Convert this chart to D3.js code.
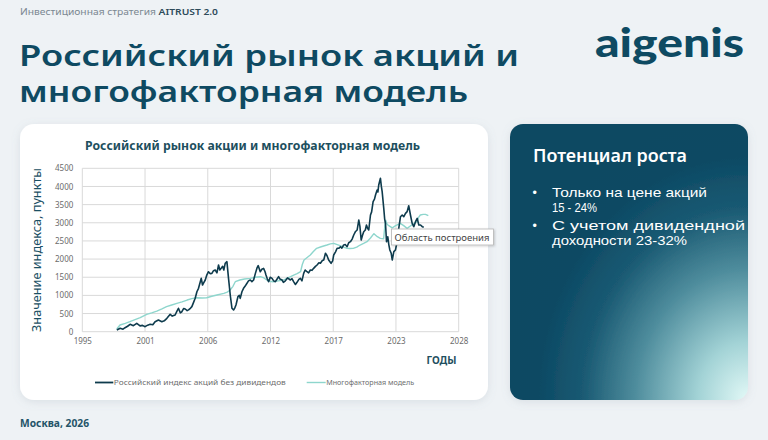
<!DOCTYPE html>
<html><head><meta charset="utf-8">
<script src="https://cdn.jsdelivr.net/npm/d3@7"></script>
<style>
html,body{margin:0;padding:0;background:#eef2f5;}
svg{display:block;}
</style></head>
<body>
<svg id="c" width="768" height="440"></svg>
<script>
// ---------- DATA ----------
const indexYears = [1998.76,1999.05,1999.3,1999.48,1999.7,1999.92,2000.21,2000.5,2000.79,2001.0,2001.23,2001.45,2001.67,2001.9,2002.1,2002.39,2002.69,2002.9,2003.13,2003.42,2003.6,2003.85,2004.0,2004.14,2004.3,2004.44,2004.6,2004.73,2004.9,2005.02,2005.2,2005.31,2005.45,2005.6,2005.75,2005.89,2005.98,2006.13,2006.24,2006.35,2006.48,2006.6,2006.76,2006.9,2007.06,2007.2,2007.35,2007.5,2007.64,2007.75,2007.87,2008.0,2008.1,2008.22,2008.37,2008.51,2008.66,2008.81,2008.95,2009.05,2009.16,2009.33,2009.45,2009.53,2009.68,2009.82,2009.95,2010.12,2010.25,2010.41,2010.55,2010.7,2010.85,2010.99,2011.1,2011.28,2011.42,2011.57,2011.7,2011.78,2011.9,2012.01,2012.15,2012.31,2012.45,2012.6,2012.75,2012.88,2013.0,2013.18,2013.3,2013.47,2013.65,2013.8,2013.91,2014.05,2014.19,2014.35,2014.49,2014.65,2014.78,2014.92,2015.07,2015.2,2015.36,2015.5,2015.65,2015.8,2015.94,2016.1,2016.24,2016.4,2016.53,2016.7,2016.82,2016.97,2017.1,2017.25,2017.46,2017.6,2017.69,2017.85,2017.99,2018.15,2018.28,2018.4,2018.56,2018.7,2018.86,2019.0,2019.15,2019.3,2019.44,2019.6,2019.74,2019.88,2019.98,2020.09,2020.2,2020.31,2020.45,2020.55,2020.65,2020.75,2020.9,2021.0,2021.13,2021.25,2021.34,2021.48,2021.55,2021.62,2021.77,2021.85,2021.92,2022.06,2022.14,2022.21,2022.3,2022.41,2022.5,2022.59,2022.71,2022.8,2022.94,2023.08,2023.23,2023.37,2023.52,2023.67,2023.81,2023.96,2024.1,2024.24,2024.39,2024.54,2024.68,2024.83,2024.98,2025.12,2025.27,2025.42,2025.55];
const indexValues = [47,93,70,110,150,204,165,231,160,175,138,180,204,190,276,322,276,300,368,478,430,460,560,644,520,550,640,625,580,600,650,690,800,920,1100,1195,1300,1470,1286,1350,1424,1550,1652,1600,1606,1680,1700,1620,1837,1700,1745,1800,1700,1884,1928,1470,1011,644,598,650,735,964,1000,918,1100,1195,1250,1333,1400,1424,1380,1424,1600,1750,1820,1652,1720,1745,1650,1562,1450,1378,1500,1470,1400,1378,1450,1515,1450,1424,1360,1400,1480,1450,1424,1460,1378,1300,1360,1440,1470,1400,1608,1700,1652,1620,1700,1690,1745,1800,1837,1900,1884,1960,1975,2159,2100,1975,1884,1950,2112,2200,2297,2300,2341,2300,2388,2400,2341,2450,2479,2550,2663,2760,2801,3076,2900,2525,2650,2754,2800,2938,2850,2801,3214,3300,3580,3650,3765,3902,3850,4040,4224,4000,3856,3398,3100,2985,2479,2616,2400,2250,2159,1975,2204,2250,2479,2847,3167,3214,3167,3260,3306,3470,3214,2985,2892,3030,3122,2938,2938,2892,2880];

const modelYears = [1998.75,1999.04,1999.5,1999.9,2000.35,2000.8,2001.37,2001.8,2002.25,2002.7,2003.1,2003.55,2004.0,2004.45,2004.9,2005.3,2005.74,2006.2,2006.6,2007.05,2007.5,2008.1,2008.4,2008.65,2008.9,2009.1,2009.5,2009.9,2010.4,2010.85,2011.3,2011.6,2011.85,2012.1,2012.4,2012.85,2013.3,2013.75,2014.2,2014.5,2014.8,2014.95,2015.1,2015.4,2015.65,2015.9,2016.2,2016.6,2017.1,2017.4,2017.7,2018.0,2018.25,2018.55,2018.85,2019.1,2019.4,2019.7,2020.0,2020.3,2020.6,2020.9,2021.2,2021.5,2021.76,2022.05,2022.15,2022.22,2022.35,2022.5,2022.8,2023.1,2023.5,2023.8,2024.1,2024.5,2024.95,2025.1,2025.25,2025.5,2025.7,2025.95];
const modelValues = [73,184,230,275,330,386,477,520,569,630,689,735,780,820,872,910,936,930,936,975,1010,1056,1090,1148,1250,1377,1423,1450,1469,1500,1515,1480,1423,1390,1377,1400,1423,1490,1560,1600,1652,1850,1974,2050,2111,2200,2295,2340,2387,2420,2433,2400,2368,2330,2295,2290,2295,2330,2387,2430,2479,2580,2700,2616,2570,2560,2900,3076,2960,2920,2860,2920,2983,2920,2846,2938,3030,3150,3213,3230,3231,3195];

const yTicks = [0,500,1000,1500,2000,2500,3000,3500,4000,4500];
const xAxisStart = new Date(1995, 9, 1);   // Excel date axis start
const xMajorUnitDays = 2000;               // major unit (days)
const xTickCount = 7;
const seriesNames = ["Российский индекс акций без дивидендов", "Многофакторная модель"];
const bullets = [["Только на цене акций", "15 - 24%"], ["С учетом дивидендной", "доходности 23-32%"]];

// ---------- HELPERS ----------
function yearToDate(y){
  const yr = Math.floor(y);
  const start = new Date(yr,0,1), end = new Date(yr+1,0,1);
  return new Date(start.getTime() + (y-yr)*(end-start));
}
const DAY = 86400000;
const xTicks = d3.range(xTickCount).map(i => new Date(xAxisStart.getTime() + i*xMajorUnitDays*DAY));

const svg = d3.select("#c");
const defs = svg.append("defs");
const f = defs.append("filter").attr("id","sh").attr("x","-10%").attr("y","-10%").attr("width","120%").attr("height","130%");
f.append("feDropShadow").attr("dx",0).attr("dy",2).attr("stdDeviation",4).attr("flood-color","#7a8a99").attr("flood-opacity",0.18);
const f2 = defs.append("filter").attr("id","sh2").attr("x","-10%").attr("y","-30%").attr("width","130%").attr("height","180%");
f2.append("feDropShadow").attr("dx",1).attr("dy",1).attr("stdDeviation",1).attr("flood-color","#000").attr("flood-opacity",0.18);
const rg = defs.append("radialGradient").attr("id","pg").attr("cx","1").attr("cy","1").attr("r","1.05").attr("fx","1").attr("fy","1");
[[0,"#e3f9f7"],[0.2,"#a3d3d6"],[0.45,"#4f8d9d"],[0.66,"#1a5a73"],[0.85,"#0c4963"],[1,"#0b4862"]].forEach(s=>rg.append("stop").attr("offset",s[0]).attr("stop-color",s[1]));

// ---------- HEADER ----------
const hdr = svg.append("text").attr("x",20).attr("y",15).attr("font-family","Noto Sans, sans-serif").attr("font-size",9.6).attr("textLength",198).attr("lengthAdjust","spacingAndGlyphs");
hdr.append("tspan").attr("fill","#7b8892").text("Инвестиционная стратегия ");
hdr.append("tspan").attr("fill","#2d4b5a").attr("font-weight",600).text("AITRUST 2.0");

svg.append("text").attr("x",19).attr("y",66).attr("font-family","Noto Sans, sans-serif").attr("font-weight",600).attr("font-size",29)
  .attr("fill","#0e4a62").attr("textLength",500).attr("lengthAdjust","spacingAndGlyphs").text("Российский рынок акций и");
svg.append("text").attr("x",19).attr("y",101.5).attr("font-family","Noto Sans, sans-serif").attr("font-weight",600).attr("font-size",29)
  .attr("fill","#0e4a62").attr("textLength",449).attr("lengthAdjust","spacingAndGlyphs").text("многофакторная модель");

svg.append("text").attr("x",595).attr("y",57).attr("font-family","Lato, sans-serif").attr("font-weight",900).attr("font-size",40)
  .attr("fill","#0e4a62").attr("textLength",149).attr("lengthAdjust","spacingAndGlyphs").text("aigenis");

svg.append("text").attr("x",20).attr("y",427).attr("font-family","Noto Sans, sans-serif").attr("font-weight",700).attr("font-size",10.5)
  .attr("fill","#245468").attr("textLength",69).attr("lengthAdjust","spacingAndGlyphs").text("Москва, 2026");

// ---------- CHART CARD ----------
svg.append("rect").attr("x",20).attr("y",124).attr("width",468).attr("height",276).attr("rx",14).attr("fill","#ffffff").attr("filter","url(#sh)");

svg.append("text").attr("x",85).attr("y",150).attr("font-family","Noto Sans, sans-serif").attr("font-weight",700).attr("font-size",12.5)
  .attr("fill","#1d4f5e").attr("textLength",335).attr("lengthAdjust","spacingAndGlyphs").text("Российский рынок акции и многофакторная модель");

const x = d3.scaleTime().domain([xTicks[0], xTicks[xTicks.length-1]]).range([82.3, 458.7]);
const y = d3.scaleLinear().domain([0,4500]).range([331.7, 168.3]);

const g = svg.append("g");
// grid
g.append("g").selectAll("line").data(yTicks).join("line")
  .attr("x1",x.range()[0]).attr("x2",x.range()[1]).attr("y1",d=>y(d)).attr("y2",d=>y(d))
  .attr("stroke","#d9d9d9").attr("stroke-width",1);
g.append("g").selectAll("line").data(xTicks).join("line")
  .attr("x1",d=>x(d)).attr("x2",d=>x(d)).attr("y1",y.range()[0]).attr("y2",y.range()[1])
  .attr("stroke","#d9d9d9").attr("stroke-width",1);

// axes
const yAxis = d3.axisLeft(y).tickValues(yTicks).tickSize(0).tickPadding(9).tickFormat(d3.format("d"));
const ya = svg.append("g").attr("transform",`translate(${x.range()[0]},0)`).call(yAxis);
ya.select(".domain").remove();
ya.selectAll("text").attr("font-family","Noto Sans, sans-serif").attr("font-size",8).attr("fill","#6b6b6b");

const xAxis = d3.axisBottom(x).tickValues(xTicks).tickSize(0).tickPadding(7).tickFormat(d3.timeFormat("%Y"));
const xa = svg.append("g").attr("transform",`translate(0,${y.range()[0]})`).call(xAxis);
xa.select(".domain").remove();
xa.selectAll("text").attr("font-family","Noto Sans, sans-serif").attr("font-size",8).attr("fill","#6b6b6b");

svg.append("text").attr("transform","translate(41,250) rotate(-90)").attr("text-anchor","middle")
  .attr("font-family","Noto Sans, sans-serif").attr("font-size",12.5).attr("fill","#1a4f63")
  .attr("textLength",164).attr("lengthAdjust","spacingAndGlyphs").text("Значение индекса, пункты");

svg.append("text").attr("x",426.5).attr("y",364).attr("font-family","Noto Sans, sans-serif").attr("font-weight",700).attr("font-size",11)
  .attr("fill","#1f4f60").attr("textLength",30).attr("lengthAdjust","spacingAndGlyphs").text("ГОДЫ");

// lines
const idx = indexYears.map((yy,i)=>({d:yearToDate(yy), v:indexValues[i]}));
const mdl = modelYears.map((yy,i)=>({d:yearToDate(yy), v:modelValues[i]}));
const line = d3.line().x(p=>x(p.d)).y(p=>y(p.v));
svg.append("path").datum(mdl).attr("d",line).attr("fill","none").attr("stroke","#8ed6cd").attr("stroke-width",1.4).attr("stroke-linejoin","round");
svg.append("path").datum(idx).attr("d",line).attr("fill","none").attr("stroke","#0e3b4d").attr("stroke-width",1.6).attr("stroke-linejoin","round");

// legend
const lg = [{x0:95,x1:113.3,c:"#0e3b4d",w:1.8,t:seriesNames[0],tl:172},{x0:306.7,x1:325.7,c:"#8ed6cd",w:1.4,t:seriesNames[1],tl:88}];
lg.forEach(l=>{
  svg.append("line").attr("x1",l.x0).attr("x2",l.x1).attr("y1",382.5).attr("y2",382.5).attr("stroke",l.c).attr("stroke-width",l.w);
  svg.append("text").attr("x",l.x1+0.5).attr("y",385.3).attr("font-family","Noto Sans, sans-serif").attr("font-size",7.8)
    .attr("fill","#6e6e6e").attr("textLength",l.tl).attr("lengthAdjust","spacingAndGlyphs").text(l.t);
});

// tooltip
svg.append("rect").attr("x",391.5).attr("y",229).attr("width",102).attr("height",16).attr("fill","#ffffff")
  .attr("stroke","#b5b5b5").attr("stroke-width",0.8).attr("filter","url(#sh2)");
svg.append("text").attr("x",394.5).attr("y",240.5).attr("font-family","Noto Sans, sans-serif").attr("font-size",9.8)
  .attr("fill","#444444").attr("textLength",95).attr("lengthAdjust","spacingAndGlyphs").text("Область построения");

// ---------- RIGHT PANEL ----------
svg.append("rect").attr("x",510).attr("y",124).attr("width",238).attr("height",276).attr("rx",13).attr("fill","url(#pg)").attr("filter","url(#sh)");
svg.append("text").attr("x",533).attr("y",162).attr("font-family","Noto Sans, sans-serif").attr("font-weight",600).attr("font-size",17)
  .attr("fill","#ffffff").attr("textLength",154).attr("lengthAdjust","spacingAndGlyphs").text("Потенциал роста");
const bl = [[196.5,211.5],[229.5,245]];
const bw = [[155,45],[193,135]];
bullets.forEach((b,i)=>{
  svg.append("text").attr("x",532.5).attr("y",bl[i][0]).attr("font-family","Liberation Sans, sans-serif").attr("font-size",12.5).attr("fill","#ffffff").text("•");
  b.forEach((t,j)=>{
    svg.append("text").attr("x",552).attr("y",bl[i][j]).attr("font-family","Liberation Sans, sans-serif").attr("font-size",12.8)
      .attr("fill","#ffffff").attr("textLength",bw[i][j]).attr("lengthAdjust","spacingAndGlyphs").text(t);
  });
});
</script>
</body></html>
